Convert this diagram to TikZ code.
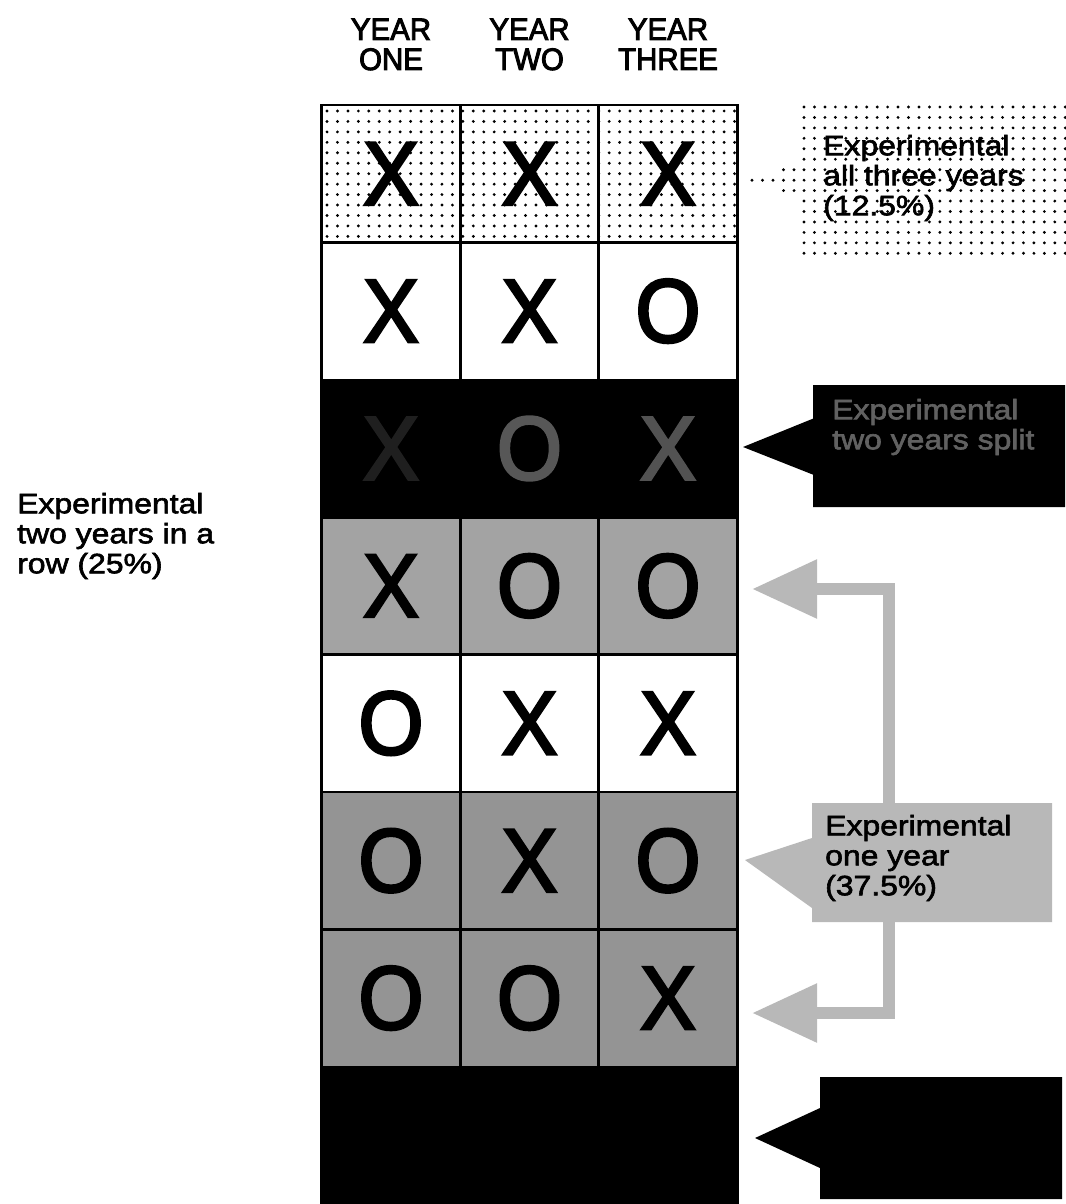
\documentclass[tikz,border=0pt]{standalone}
\usepackage{fontspec}
\setmainfont{Liberation Sans}
\newfontfamily\labelfont[FakeStretch=1.14,FakeBold=2.2]{Liberation Sans}
\newfontfamily\headfont[FakeStretch=0.95,FakeBold=3]{Liberation Sans}
\newfontfamily\markfont[FakeStretch=0.93,FakeBold=3]{Liberation Sans}
\usetikzlibrary{arrows.meta,shapes.callouts}

\definecolor{rowlight}{gray}{0.64}
\definecolor{rowdark}{gray}{0.58}
\definecolor{lblgray}{gray}{0.72}

\tikzset{
  cell/.style={draw=black, line width=2.6pt, minimum width=138.5pt,
    minimum height=137.4pt, inner sep=0pt,
    font=\markfont\fontsize{90}{90}\selectfont},
  head/.style={anchor=base, inner sep=0pt,
    font=\headfont\fontsize{31}{27}\selectfont},
  lbl/.style={align=left, inner sep=0pt,
    font=\labelfont\fontsize{28}{30}\selectfont},
  callbox/.style={rectangle callout, inner sep=0pt},
  fatarrow/.style={draw=lblgray, line width=12pt, line join=miter,
    -{Triangle[length=65pt,width=56pt]}},
  dotmark/.style={fill=black}
}

\begin{document}
\begin{tikzpicture}[x=1pt,y=-1pt]
\useasboundingbox[fill=white] (0,0) rectangle (1065,1204);

% column headings
\node[head] (h1a) at (391,40) {YEAR};
\node[head] (h1b) at (391,70) {ONE};
\node[head] (h2a) at (529.5,40) {YEAR};
\node[head] (h2b) at (529.5,70) {TWO};
\node[head] (h3a) at (668,40) {YEAR};
\node[head] (h3b) at (668,70) {THREE};

% dot screen behind the first row
\foreach \i in {0,...,39}
  \foreach \j in {0,...,12}
    \fill[dotmark] (327+\i*10.45,111+\j*10.45) circle (1.6);

% the eight rows of the table
\foreach \r/\a/\b/\c/\fc in {1/X/X/X/none,2/X/X/O/white,4/X/O/O/rowlight,
                             5/O/X/X/white,6/O/X/O/rowdark,7/O/O/X/rowdark}{
  \pgfmathsetmacro\yy{105+137.4*(\r-0.5)}
  \node[cell, fill=\fc] (c\r-1) at (391,\yy) {\a};
  \node[cell, fill=\fc] (c\r-2) at (529.5,\yy) {\b};
  \node[cell, fill=\fc] (c\r-3) at (668,\yy) {\c};
}
\node[cell, fill=black, text=black!88] (c3-1) at (391,448.5) {X};
\node[cell, fill=black, text=black!66] (c3-2) at (529.5,448.5) {O};
\node[cell, fill=black, text=black!68] (c3-3) at (668,448.5) {X};
\node[cell, fill=black] (c8-1) at (391,1135.5) {};
\node[cell, fill=black] (c8-2) at (529.5,1135.5) {};
\node[cell, fill=black] (c8-3) at (668,1135.5) {};

% dotted label: all three years
\foreach \i in {0,...,25}
  \foreach \j in {0,...,14}
    \fill[dotmark] (804+\i*10.45,107+\j*10.45) circle (1.6);
\foreach \px/\py in {752/180.2,762.5/180.2,773/180.2,783.5/180.2,794/180.2,
                     783.5/169.7,794/169.7,783.5/190.6,794/190.6}
  \fill[dotmark] (\px,\py) circle (1.6);
\node[lbl, anchor=west] (lblall) at (823,178) {Experimental\\all three years\\(12.5\%)};

% black label: two years split
\node[callbox, fill=black, minimum width=252pt, minimum height=122pt,
      callout absolute pointer={(743,447)}, callout pointer width=56pt]
      (lblsplit) at (939,446) {};
\node[lbl, anchor=west, text=black!62] (lblsplittext) at (832,427)
      {Experimental\\two years split};

% grey label: one year, with its two fat arrows
\node[callbox, fill=lblgray, minimum width=240pt, minimum height=119pt,
      callout absolute pointer={(745,860)}, callout pointer width=70pt]
      (lblone) at (932,862.5) {};
\node[lbl, anchor=west] (lblonetext) at (825,858) {Experimental\\one year\\(37.5\%)};
\coordinate (elbowx) at (889,0);
\coordinate (tipA) at (752,589);
\coordinate (tipB) at (752,1013);
\draw[fatarrow] (lblone.north -| elbowx) |- (tipA);
\draw[fatarrow] (lblone.south -| elbowx) |- (tipB);

% black label at the bottom
\node[callbox, fill=black, minimum width=242pt, minimum height=122pt,
      callout absolute pointer={(755,1138)}, callout pointer width=60pt]
      (lblnone) at (941,1138) {};

% left label
\node[lbl, anchor=west] (lblrow) at (17,536) {Experimental\\two years in a\\row (25\%)};
\end{tikzpicture}
\end{document}
